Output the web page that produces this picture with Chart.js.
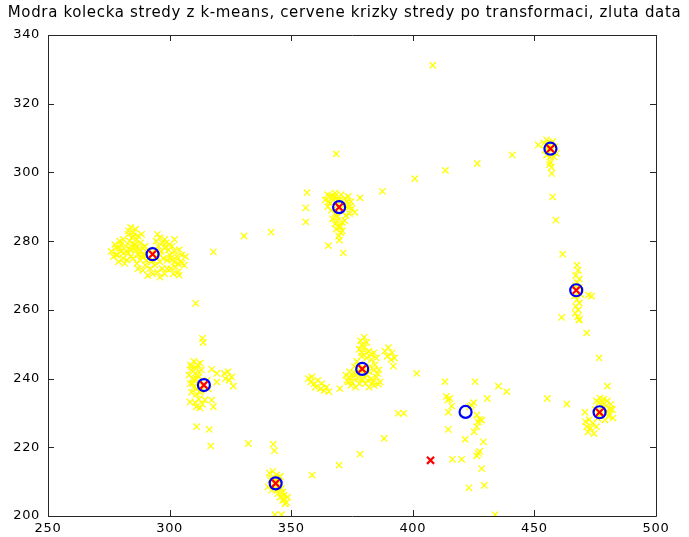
<!DOCTYPE html>
<html>
<head>
<meta charset="utf-8">
<script src="https://cdn.jsdelivr.net/npm/chart.js@4/dist/chart.umd.min.js"></script>
<style>
  html, body { margin: 0; padding: 0; background: #ffffff; }
  canvas { display: block; }
</style>
</head>
<body>
<canvas id="c" width="689" height="537"></canvas>
<script>
// ---- chart text ----
const titleText = "Modra kolecka stredy z k-means, cervene krizky stredy po transformaci, zluta data";

// ---- tick labels ----
const xTickValues = [250, 300, 350, 400, 450, 500];
const yTickValues = [200, 220, 240, 260, 280, 300, 320, 340];

// ---- k-means centres (blue circles) ----
const kmeansX = [293, 369.7, 456.6, 467.2, 476.8, 379.2, 314.1, 343.6, 421.7];
const kmeansY = [276.2, 289.9, 306.9, 265.7, 230.2, 242.8, 238.1, 209.5, 230.3];

// ---- transformed centres (red crosses) ----
const transX = [293, 369.7, 456.6, 467.2, 476.8, 379.2, 314.1, 343.6, 407.3];
const transY = [276.2, 289.9, 306.9, 265.7, 230.2, 242.8, 238.1, 209.5, 216.2];

// ---- data (yellow crosses) ----
const dataX = [
  // cluster around (293,276)
  276,277,278,278.5,279,280,280,281,281.5,282,283,279.5,277.5,282.5,284,
  283,284,285,286,284.5,286.5,285.5,287,288,283.5,287.5,289,286,288.5,
  285,286.5,288,287,289,290,291,292,293,294,295,296,297,298,290.5,292.5,289,291.5,296,299,
  294.5,295,296,295.5,297,296.5,298,294,
  298.5,299.5,300,301,301,302,302.5,303,304,304.5,305,303.5,306,300.5,301.5,303.9,306.5,
  278,279.5,281,282.5,284,285.5,287,288.5,290,291.5,293,294.5,296,297.5,299,300.5,302,303.5,305,
  284,286,288,290,298,300,302,285,283,281,
  310.7,318,330.6,341.7,
  // cluster around (370,290)
  364,365,366,367,368,369,370.5,372,373.5,374.5,375,373,374,372.5,366.5,365,368,371,367,369,370,368.5,370.5,369.5,371,368,372,376.2,
  365.5,367.5,369,371.5,373,366,368,370,372,374,369,371,368.5,370,
  356.5,356,356,378.3,387.5,365.3,371.4,369.8,368.5,
  // sparse top
  408.2,400.8,413.4,426.5,440.9,
  // cluster around (457,307)
  454,455,456,457.5,458.5,459,455,456.5,458,454.5,451.6,
  455.5,457,458,455,
  456.5,457,456.2,457.1,457.5,458.8,461.6,
  // cluster around (467,266)
  467.5,468,467,468.5,467.5,466.8,468.5,469,466.5,467.5,468.5,467,468,466.8,467.8,468.3,
  472.2,473.5,461.2,468.5,471.5,476.6,480,
  // cluster around (477,230)
  475.5,477,478.5,480,481.5,482,481,482.3,480,479,476,475,478,
  476.5,478,479.5,481,477,480.5,
  471,472.5,474,473,472,474.5,475.5,471.5,
  455.3,463.3,470.8,
  // cluster around (379,243)
  378,380,382,384,379,381,383,385,377,376,378,382.5,384.5,386,374,375.5,377,379,381,383,385,373,374.5,376.5,378,380.5,382,384,386.5,372.5,380,
  375,377.5,379.5,381.5,383.5,385.5,374,376,378,380,382,384,379,381,383,
  378.5,380,381,379,
  388.5,390,391.5,392.5,389.5,391,
  357,358,359.5,361,360,362,363.5,364.5,365.5,358.5,362.5,
  370,373.5,385.8,392,401.6,394,396.3,388.2,378.3,369.7,358.6,
  // cluster around (314,238)
  308.5,310,309,311,308,309.5,311.5,313,308.5,310,312,309,311,313,315.5,316,312.5,
  309,310.5,312,309.5,311,312.5,310,311.5,
  317.3,319.4,319.4,326.2,
  322.5,324,325.5,323,324.5,
  310.5,312,313.5,312.5,311,314.5,
  308.4,317.3,318,311.1,316.3,316.9,332.4,342.6,343.1,313.5,313.8,
  // cluster around (344,209)
  341,342.5,344,345.5,341.5,340.5,342,345,346,344.5,345.5,347,346.5,348,348.5,347.5,343,
  342,343.5,345,346.5,344,347,
  343.3,346,
  // scattered points around (420,225)
  413.2,425.6,435.2,438.6,413.8,415.2,414.5,416,430.6,424.2,425,423.5,414.6,426.3,426.9,427.5,428.3,426.3,
  414.6,425.2,421.5,429,426.9,426.3,427.5,416.3,420.1,428.3,423.1,429.4,433.8
];
const dataY = [
  277,275.5,278,276,274,279,277,275,273.5,278.5,276.5,280,279,274.5,277.5,
  283,284,282.5,283.5,281,280.5,279,281.5,279.5,280,277.5,278,277.5,282,
  275,273.5,274.5,272,271.5,273,270,272,270.5,273,271,269.5,272,270.5,274.5,274,276,277,274,272,
  280,282,281,278.5,279.5,277,278,277.5,
  279.5,277.5,276,278.5,274.5,277,272.5,275.5,277.5,274,276,271,273,272,270.5,270.1,275.5,
  276,278,276.5,277,275.5,278,276,275.5,276,275,274.5,275.5,276,275,274.5,275,274,273.5,273.5,
  278.5,279,277,278.5,280.5,279,280.5,281.5,282,280.5,
  261.9,276.9,281.5,282.6,
  292,293.5,291,293,294,292,293.5,292.5,293,291.5,289.5,290,288,287.5,289,290,288,288.5,286.5,286,284.5,283.5,282.5,281.5,283,285,286,288.4,
  291.5,292,290.5,291,291.5,293,293,292,290.5,290,287,285.5,287.5,284,
  294.1,289.7,285.6,292.6,294.5,278.7,276.6,280.3,305.4,
  331.2,298.2,300.6,302.6,305.1,
  308.5,309.5,308,309,307.5,305.5,305,304.5,304.5,306.5,308,
  307,308.5,306,308,
  303,301.5,302.3,299.7,292.9,286.1,276.2,
  273,271.5,270,269,268,267,266.5,264.5,264,263,262,261,260,259,258,257,
  264.3,264,257.8,257.2,253.3,246,237.8,
  233.5,234.3,234,233.5,232.5,231,229.5,228.5,230.5,228,228.5,231,232,
  233,233,232,231,229.5,229,
  227.5,228,227,225.5,224.5,224,226,226,
  234.2,232.6,230.2,
  248.5,249,248,247.5,246.5,246,245.5,246,245,243.5,244,243.5,244,242.5,242,240.5,241.5,240,241,240,240.5,239.5,238,237.5,238.5,238.5,237.5,238,239,241,243,
  239,240,239.5,239.5,239,241.5,240.5,241.5,242.5,241.5,242,242.5,247.5,247.5,247,
  251,252,250.5,249.8,
  248,249,247.5,246,246.5,245.5,
  240,239,238.5,239.5,237.5,237,236.5,237.5,236.2,240.5,238.5,
  237.1,239,238.4,243.6,241.5,229.9,229.9,222.6,218,214.8,211.9,
  244,245,242.5,243,241,240,241,242.5,238.5,237.5,239,236,235.5,236.5,239.5,237,244.5,
  243.5,241.5,240.5,238.5,237,236,239.5,244,
  242.7,241.5,239,237.8,
  241.5,242,240.5,240,239.5,
  233,234,232.5,231.5,231.8,233.8,
  233.2,233.7,231.8,226,225.2,220.4,221.1,220.9,219,251.7,250.5,
  212.5,213,212,211.5,210.5,208.5,207.5,209,208,206.5,205.5,206,204.5,204,205.5,203.5,208.5,
  211,210.5,210,207,207.5,205,
  200.4,200.4,
  239.1,239.1,237.8,236.2,234.8,234.2,233.8,232,234.2,232.3,233,231.8,230.2,229.4,227.4,228.2,227.9,226,
  225.2,224.5,222.3,221.6,218.2,217.5,218.8,216.5,216.5,213.8,208.2,208.9,200.4
];

function toPoints(xs, ys) {
  const pts = [];
  for (let i = 0; i < xs.length; i++) pts.push({ x: xs[i], y: ys[i] });
  return pts;
}

const axisColor = '#262626';
const tickFont = { family: 'DejaVu Sans', size: 13 };

// Slightly wider text spacing, like the reference lettering
const spacingPlugin = {
  id: 'spacingPlugin',
  beforeDraw(chart) { chart.ctx.letterSpacing = '0.65px'; }
};

// Box around the plot and inward tick marks (MATLAB style), placed with the chart's own scales
const boxPlugin = {
  id: 'boxPlugin',
  afterDraw(chart) {
    const { ctx, chartArea: a, scales } = chart;
    const xs = scales.x, ys = scales.y;
    const L = 6;
    ctx.save();
    ctx.strokeStyle = axisColor;
    ctx.lineWidth = 1;
    ctx.beginPath();
    ctx.rect(Math.round(a.left) + 0.5, Math.round(a.top) + 0.5,
             Math.round(a.right - a.left), Math.round(a.bottom - a.top));
    xTickValues.forEach(v => {
      const px = Math.round(xs.getPixelForValue(v)) + 0.5;
      ctx.moveTo(px, a.bottom); ctx.lineTo(px, a.bottom - L);
      ctx.moveTo(px, a.top); ctx.lineTo(px, a.top + L);
    });
    yTickValues.forEach(v => {
      const py = Math.round(ys.getPixelForValue(v)) + 0.5;
      ctx.moveTo(a.left, py); ctx.lineTo(a.left + L, py);
      ctx.moveTo(a.right, py); ctx.lineTo(a.right - L, py);
    });
    ctx.stroke();
    ctx.restore();
  }
};

new Chart(document.getElementById('c'), {
  type: 'scatter',
  data: {
    datasets: [
      {
        label: 'transformace',
        data: toPoints(transX, transY),
        pointStyle: 'crossRot',
        pointRadius: 5,
        pointBorderWidth: 2.2,
        borderColor: '#ff0000',
        backgroundColor: '#ff0000'
      },
      {
        label: 'k-means',
        data: toPoints(kmeansX, kmeansY),
        pointStyle: 'circle',
        pointRadius: 6,
        pointBorderWidth: 2.2,
        borderColor: '#0000ff',
        backgroundColor: 'rgba(0,0,0,0)'
      },
      {
        label: 'data',
        data: toPoints(dataX, dataY),
        pointStyle: 'crossRot',
        pointRadius: 4.5,
        pointBorderWidth: 1.3,
        borderColor: '#ffff00',
        backgroundColor: '#ffff00'
      }
    ]
  },
  options: {
    responsive: false,
    animation: false,
    devicePixelRatio: 1,
    layout: { padding: 0 },
    plugins: {
      legend: { display: false },
      tooltip: { enabled: false },
      title: {
        display: true,
        text: titleText,
        color: '#000000',
        font: { family: 'DejaVu Sans', size: 15, weight: 'normal' },
        padding: { top: 4, bottom: 13 }
      }
    },
    scales: {
      x: {
        type: 'linear',
        min: 250, max: 500,
        grid: { display: false, drawTicks: false },
        border: { display: false },
        afterBuildTicks: s => { s.ticks = xTickValues.map(v => ({ value: v })); },
        afterFit: s => { s.height = 21; },
        ticks: { color: '#000', font: tickFont, padding: 5, maxRotation: 0, autoSkip: false }
      },
      y: {
        type: 'linear',
        min: 200, max: 340,
        grid: { display: false, drawTicks: false },
        border: { display: false },
        afterBuildTicks: s => { s.ticks = yTickValues.map(v => ({ value: v })); },
        afterFit: s => { s.width = 48; },
        ticks: { color: '#000', font: tickFont, padding: 8, autoSkip: false }
      },
      yRight: {
        type: 'linear',
        position: 'right',
        min: 200, max: 340,
        grid: { display: false, drawTicks: false },
        border: { display: false },
        ticks: { display: false },
        afterFit: s => { s.width = 33; }
      }
    }
  },
  plugins: [spacingPlugin, boxPlugin]
});
</script>
</body>
</html>
